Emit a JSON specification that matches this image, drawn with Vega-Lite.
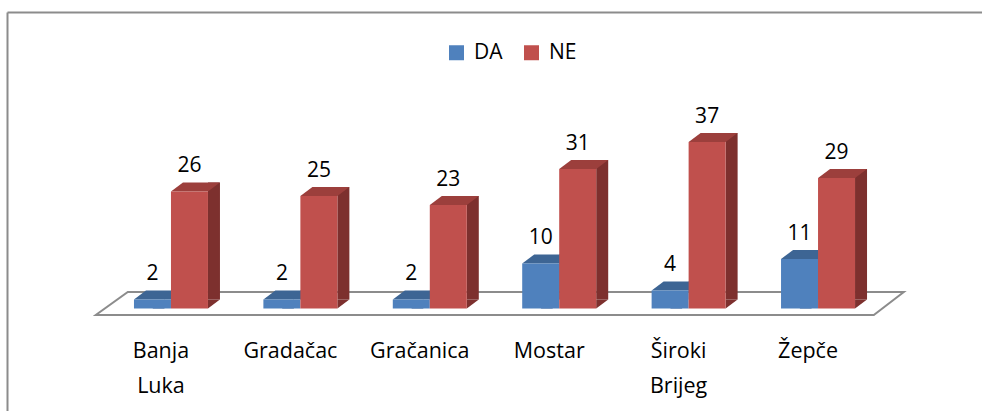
{
  "$schema": "https://vega.github.io/schema/vega-lite/v6.json",
  "width": 975,
  "height": 399,
  "autosize": {"type": "none"},
  "padding": {"left": 7, "top": 12, "right": 0, "bottom": 0},
  "background": "white",
  "config": {
    "view": {"stroke": null},
    "font": "Open Sans",
    "axisY": {"domainColor": "#8c8c8c", "domainWidth": 2, "labels": false, "ticks": false, "grid": false, "title": null},
    "legend": {"orient": "none", "legendX": 439, "legendY": 30, "direction": "horizontal", "title": null, "symbolType": "square", "symbolSize": 225, "symbolStrokeWidth": 0, "labelFontSize": 21, "labelFont": "Open Sans", "labelColor": "#000000", "labelOffset": 7, "columnPadding": 18, "padding": 0}
  },
  "datasets": {
    "bars": [
      {"city": "Banja Luka", "series": "DA", "v": 2},
      {"city": "Gradačac", "series": "DA", "v": 2},
      {"city": "Gračanica", "series": "DA", "v": 2},
      {"city": "Mostar", "series": "DA", "v": 10},
      {"city": "Široki Brijeg", "series": "DA", "v": 4},
      {"city": "Žepče", "series": "DA", "v": 11},
      {"city": "Banja Luka", "series": "NE", "v": 26},
      {"city": "Gradačac", "series": "NE", "v": 25},
      {"city": "Gračanica", "series": "NE", "v": 23},
      {"city": "Mostar", "series": "NE", "v": 31},
      {"city": "Široki Brijeg", "series": "NE", "v": 37},
      {"city": "Žepče", "series": "NE", "v": 29}
    ],
    "floor": [{"city": "Gračanica", "v": 0}]
  },
  "resolve": {"axis": {"x": "independent"}},
  "layer": [
    {
      "data": {"name": "floor"},
      "mark": {"type": "point", "shape": "M-302,-16.5L474,-16.5L444,6.5L-334,6.5Z", "size": 4, "filled": false, "stroke": "#8c8c8c", "strokeWidth": 2, "opacity": 1},
      "encoding": {
        "x": {"field": "city", "type": "nominal", "scale": {"domain": ["Banja Luka", "Gradačac", "Gračanica", "Mostar", "Široki Brijeg", "Žepče"], "paddingInner": 0.4, "paddingOuter": 0.967}, "axis": {"orient": "top", "domain": true, "domainColor": "#8c8c8c", "domainWidth": 2, "labels": false, "ticks": false, "grid": false, "title": null}},
        "y": {"field": "v", "type": "quantitative", "scale": {"domain": [-22.778, 65.889], "nice": false, "zero": false}, "title": null}
      }
    },
    {
      "data": {"name": "bars"},
      "transform": [{"filter": "datum.series == 'DA'"}],
      "layer": [
        {
          "mark": {"type": "bar", "width": 12, "xOffset": 6, "yOffset": -9, "y2Offset": -9, "color": "#37598a"},
          "encoding": {"x": {"field": "city", "type": "nominal", "axis": null}, "y": {"field": "v", "type": "quantitative", "title": null}, "y2": {"datum": 0}}
        },
        {
          "mark": {"type": "point", "shape": "M-18.5,0L-6.5,-9L-6.5,0Z", "size": 4, "filled": true, "color": "#37598a", "opacity": 1, "strokeWidth": 0, "xOffset": 0},
          "encoding": {"x": {"field": "city", "type": "nominal", "axis": null}, "y": {"datum": 0, "type": "quantitative"}}
        },
        {
          "mark": {"type": "point", "shape": "M-18.5,0L18.5,0L30.5,-9L-6.5,-9Z", "size": 4, "filled": true, "color": "#3d6594", "opacity": 1, "strokeWidth": 0, "xOffset": -18.5},
          "encoding": {"x": {"field": "city", "type": "nominal", "axis": null}, "y": {"field": "v", "type": "quantitative", "title": null}}
        },
        {
          "mark": {"type": "bar", "width": 37, "xOffset": -18.5},
          "encoding": {"x": {"field": "city", "type": "nominal", "axis": null}, "y": {"field": "v", "type": "quantitative", "title": null}, "y2": {"datum": 0}, "color": {"field": "series", "type": "nominal", "scale": {"domain": ["DA", "NE"], "range": ["#4F81BD", "#C0504D"]}}}
        },
        {
          "mark": {"type": "text", "xOffset": -18.5, "yOffset": -19, "baseline": "alphabetic", "fontSize": 21, "font": "Open Sans", "color": "#000000"},
          "encoding": {"x": {"field": "city", "type": "nominal", "axis": null}, "y": {"field": "v", "type": "quantitative", "title": null}, "text": {"field": "v", "type": "quantitative"}}
        }
      ]
    },
    {
      "data": {"name": "bars"},
      "transform": [{"filter": "datum.series == 'NE'"}],
      "layer": [
        {
          "mark": {"type": "bar", "width": 12, "xOffset": 43, "yOffset": -9, "y2Offset": -9, "color": "#7d302e"},
          "encoding": {"x": {"field": "city", "type": "nominal", "axis": null}, "y": {"field": "v", "type": "quantitative", "title": null}, "y2": {"datum": 0}}
        },
        {
          "mark": {"type": "point", "shape": "M37,0L49,-9L37,-9Z", "size": 4, "filled": true, "color": "#7d302e", "opacity": 1, "strokeWidth": 0, "xOffset": 0},
          "encoding": {"x": {"field": "city", "type": "nominal", "axis": null}, "y": {"datum": 0, "type": "quantitative"}}
        },
        {
          "mark": {"type": "point", "shape": "M-18.5,0L18.5,0L30.5,-9L-6.5,-9Z", "size": 4, "filled": true, "color": "#9c3f3c", "opacity": 1, "strokeWidth": 0, "xOffset": 18.5},
          "encoding": {"x": {"field": "city", "type": "nominal", "axis": null}, "y": {"field": "v", "type": "quantitative", "title": null}}
        },
        {
          "mark": {"type": "bar", "width": 37, "xOffset": 18.5},
          "encoding": {"x": {"field": "city", "type": "nominal", "axis": null}, "y": {"field": "v", "type": "quantitative", "title": null}, "y2": {"datum": 0}, "color": {"field": "series", "type": "nominal", "scale": {"domain": ["DA", "NE"], "range": ["#4F81BD", "#C0504D"]}}}
        },
        {
          "mark": {"type": "text", "xOffset": 18.5, "yOffset": -19, "baseline": "alphabetic", "fontSize": 21, "font": "Open Sans", "color": "#000000"},
          "encoding": {"x": {"field": "city", "type": "nominal", "axis": null}, "y": {"field": "v", "type": "quantitative", "title": null}, "text": {"field": "v", "type": "quantitative"}}
        }
      ]
    },
    {
      "data": {"name": "bars"},
      "transform": [{"filter": "datum.series == 'NE'"}],
      "mark": {"type": "point", "opacity": 0, "size": 0},
      "encoding": {
        "x": {"field": "city", "type": "nominal", "axis": {"orient": "bottom", "offset": -95, "domain": false, "ticks": false, "grid": false, "labelPadding": 24, "labelFontSize": 21.5, "labelFont": "Open Sans", "labelColor": "#000000", "labelAngle": 0, "labelOffset": -10, "labelLineHeight": 35, "labelExpr": "split(datum.label, ' ')", "title": null}},
        "y": {"field": "v", "type": "quantitative", "title": null}
      }
    }
  ]
}
